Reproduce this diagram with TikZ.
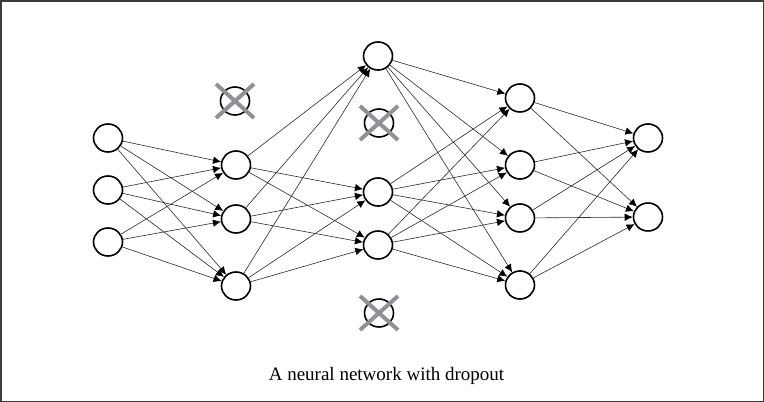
\documentclass[tikz,border=0pt]{standalone}
\usepackage{fontspec}
\setmainfont{Liberation Serif}
\usetikzlibrary{shapes.geometric,arrows.meta}
\definecolor{edgecol}{HTML}{2A2A2A}
\definecolor{crosscol}{HTML}{8E9297}
\definecolor{framecol}{HTML}{3C3C3C}
\tikzset{
  neuron/.style={draw=black,ellipse,line width=1.6pt,minimum width=29pt,minimum height=28pt,inner sep=0pt,fill=white},
  conn/.style={draw=edgecol,line width=0.6pt,-{Latex[length=8pt,width=7.5pt,fill=black,color=black]}},
  crossline/.style={draw=crosscol,line width=4pt},
}
\begin{document}
\begin{tikzpicture}[x=1pt,y=-1pt]
\useasboundingbox (0,0) rectangle (764,402);
\draw[framecol,line width=1.5pt] (0.75,0.75) rectangle (763.25,401.25);
% layer 1
\node[neuron] (a1) at (108,138) {};
\node[neuron] (a2) at (108,190) {};
\node[neuron] (a3) at (108,242) {};
% layer 2
\node[neuron] (d2) at (235,101) {};
\node[neuron] (b1) at (236,165) {};
\node[neuron] (b2) at (236,219) {};
\node[neuron] (b3) at (236,286) {};
% layer 3
\node[neuron] (c1) at (378,56) {};
\node[neuron] (d3a) at (379,123) {};
\node[neuron] (c2) at (378,192) {};
\node[neuron] (c3) at (378,245) {};
\node[neuron] (d3b) at (379,313) {};
% layer 4
\node[neuron] (e1) at (520,98) {};
\node[neuron] (e2) at (520,165) {};
\node[neuron] (e3) at (520,218) {};
\node[neuron] (e4) at (520,285) {};
% layer 5
\node[neuron] (f1) at (648,138) {};
\node[neuron] (f2) at (648,217) {};
% edges
\foreach \s in {a1,a2,a3}{\foreach \t in {b1,b2,b3}{\draw[conn] (\s) -- (\t);}}
\foreach \s in {b1,b2,b3}{\foreach \t in {c1,c2,c3}{\draw[conn] (\s) -- (\t);}}
\foreach \s in {c1,c2,c3}{\foreach \t in {e1,e2,e3,e4}{\draw[conn] (\s) -- (\t);}}
\foreach \s in {e1,e2,e3,e4}{\foreach \t in {f1,f2}{\draw[conn] (\s) -- (\t);}}
% crosses
\foreach \n in {d2,d3a,d3b}{
  \draw[crossline] ([shift={(-19,-17)}]\n.center) -- ([shift={(19,17)}]\n.center);
  \draw[crossline] ([shift={(19,-17)}]\n.center) -- ([shift={(-19,17)}]\n.center);
}
\node[font=\fontsize{19}{22}\selectfont,inner sep=0pt] (cap) at (386.5,376) {A neural network with dropout};
\end{tikzpicture}
\end{document}
